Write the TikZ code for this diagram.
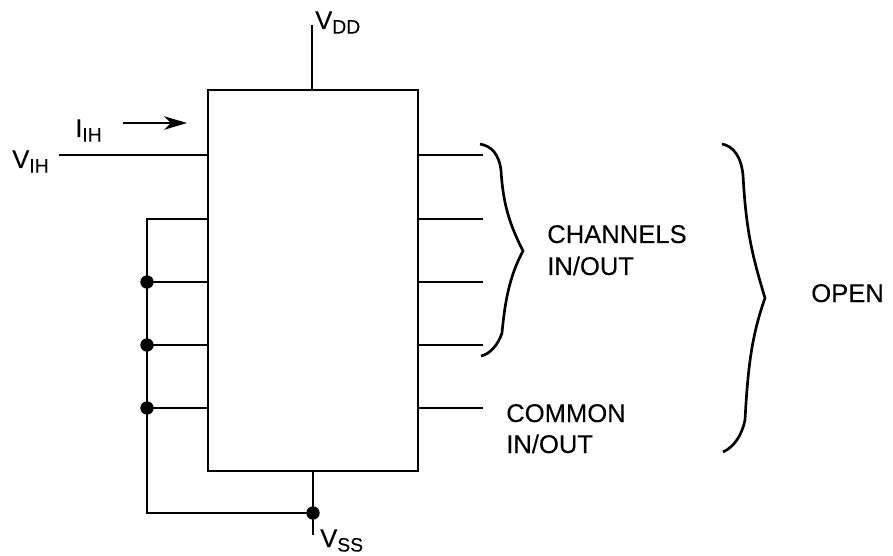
\documentclass[tikz,border=0pt]{standalone}
\usepackage{fontspec}
\setmainfont{Liberation Sans}[FakeBold=0.15]
\usetikzlibrary{arrows.meta}
\newcommand{\subtxt}[1]{\raisebox{-3.4pt}{\fontsize{14.5}{16}\selectfont #1}}
\tikzset{
  wire/.style={line width=2pt,black},
  dotn/.style={circle,fill=black,inner sep=0pt,minimum size=10pt},
  lbl/.style={inner sep=0pt,anchor=base west,font=\fontsize{19.2}{22}\selectfont},
  chipbox/.style={draw=black,line width=2.2pt,fill=white,inner sep=0pt,minimum width=157.5pt,minimum height=285.75pt}
}
\begin{document}
\begin{tikzpicture}[x=0.75pt,y=-0.75pt]
\useasboundingbox (0,0) rectangle (893,556);
\node[chipbox] (chip) at (313,280.5) {};
% free ends and junctions
\coordinate (vddtop) at (312,25);
\coordinate (vddbot) at (312,90);
\coordinate (vihend) at (59,155);
\coordinate (vihpin) at (208,155);
\coordinate (bustop) at (147,219);
\coordinate (l1) at (208,219);
\node[dotn] (d1) at (147,282) {};
\coordinate (l2) at (208,282);
\node[dotn] (d2) at (147,345) {};
\coordinate (l3) at (208,345);
\node[dotn] (d3) at (147,408) {};
\coordinate (l4) at (208,408);
\coordinate (buscorner) at (147,513);
\node[dotn] (d4) at (313,513) {};
\coordinate (vsstop) at (313,471);
\coordinate (vssend) at (313,535);
\coordinate (arrA) at (123,123);
\coordinate (arrB) at (187,123);
\draw[wire] (vddtop) -- (vddbot);
\draw[wire] (vihend) -- (vihpin);
\draw[wire] (l1) -- (bustop) -- (buscorner) -- (d4.center);
\draw[wire] (d1.center) -- (l2);
\draw[wire] (d2.center) -- (l3);
\draw[wire] (d3.center) -- (l4);
\draw[wire] (vsstop) -- (vssend);
\draw[wire,-{Stealth[length=17pt,width=10pt,inset=5pt]}] (arrA) -- (arrB);
\foreach \y/\n in {155/1,219/2,282/3,345/4,408/5}{
  \coordinate (ra\n) at (418,\y);
  \coordinate (rb\n) at (483,\y);
  \draw[wire] (ra\n) -- (rb\n);
}
% braces
\coordinate (b1a) at (480,144);
\coordinate (b1t) at (523,251);
\coordinate (b1b) at (481,356);
\draw[wire,line join=miter] (b1a) .. controls (492,146) and (499,155) .. (501,170)
  .. controls (503,205) and (510,225) .. (b1t)
  .. controls (510,275) and (505,300) .. (502,333)
  .. controls (498,345) and (490,354) .. (b1b);
\coordinate (b2a) at (722,144);
\coordinate (b2t) at (765,298);
\coordinate (b2b) at (723,452);
\draw[wire,line join=miter] (b2a) .. controls (733,146) and (741,156) .. (743,175)
  .. controls (746,230) and (752,255) .. (b2t)
  .. controls (752,335) and (748,365) .. (745,420)
  .. controls (742,435) and (734,447) .. (b2b);
% labels
\node[lbl] (vdd) at (315,29) {V\subtxt{DD}};
\node[lbl] (iih) at (75,137) {I\subtxt{IH}};
\node[lbl] (vih) at (12,168) {V\subtxt{IH}};
\node[lbl] (vss) at (320,547) {V\subtxt{SS}};
\node[lbl] (ch1) at (547,243) {CHANNELS};
\node[lbl] (ch2) at (547,275) {IN/OUT};
\node[lbl] (co1) at (506,422) {COMMON};
\node[lbl] (co2) at (506,453) {IN/OUT};
\node[lbl] (open) at (811,302) {OPEN};
\end{tikzpicture}
\end{document}
